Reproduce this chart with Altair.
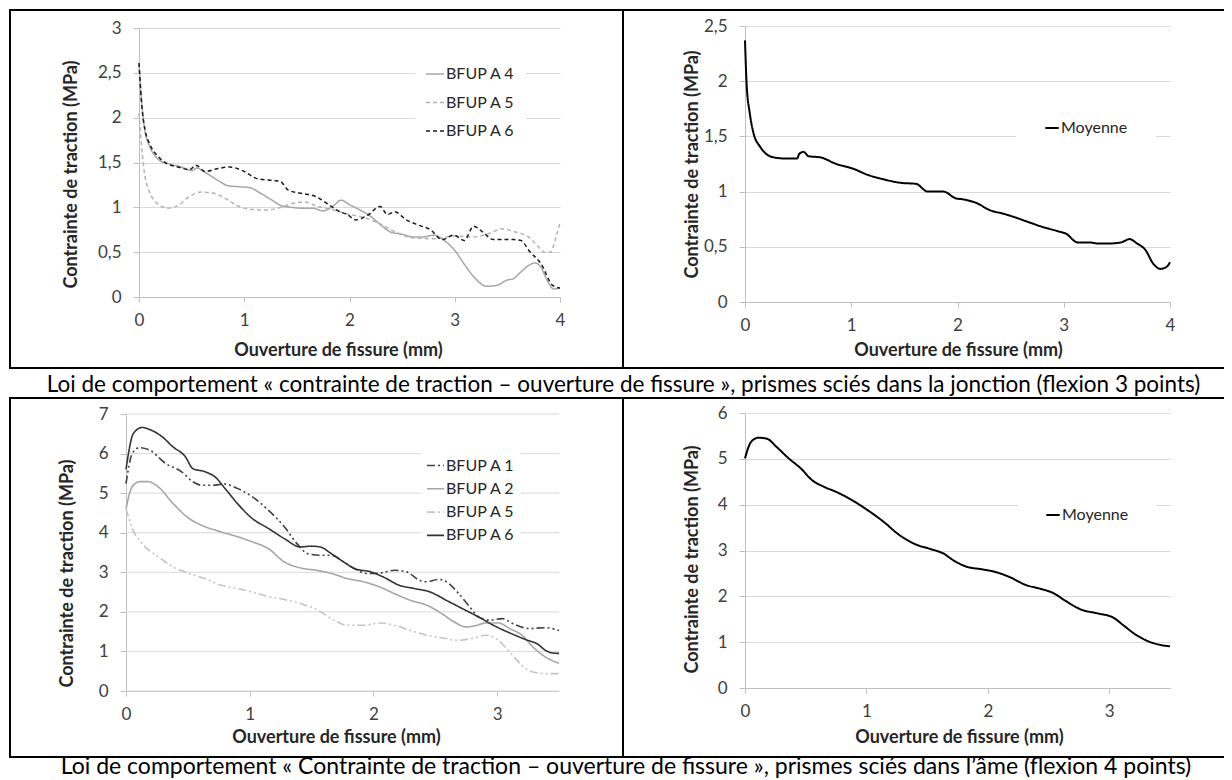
import altair as alt
import pandas as pd

FONT = "Lato"
LABEL_C = "#404040"
TITLE_C = "#262626"
GRID_C = "#d9d9d9"
AXIS_C = "#bfbfbf"
TICK_FS = 17
TITLE_FS = 18
LEG_FS = 16

# ---------------- data: top-left (jonction, flexion 3 points) ----------------
tl_a4_x = [0, 0.02, 0.05, 0.1, 0.15, 0.2, 0.3, 0.4, 0.5, 0.55, 0.6, 0.67, 0.75, 0.85, 0.95, 1.05, 1.15, 1.25,
           1.35, 1.45, 1.55, 1.65, 1.75, 1.85, 1.92, 2.0, 2.1, 2.2, 2.3, 2.4, 2.5, 2.6, 2.7, 2.8, 2.9, 3.0,
           3.1, 3.2, 3.3, 3.4, 3.5, 3.55, 3.62, 3.7, 3.76, 3.82, 3.88, 3.94, 4.0]
tl_a4_y = [2.6, 2.25, 1.9, 1.68, 1.58, 1.52, 1.48, 1.45, 1.41, 1.44, 1.41, 1.36, 1.3, 1.24, 1.23, 1.22, 1.16,
           1.09, 1.02, 1.0, 0.99, 0.99, 0.96, 1.02, 1.08, 1.03, 0.97, 0.9, 0.8, 0.72, 0.7, 0.67, 0.67, 0.69,
           0.63, 0.52, 0.35, 0.2, 0.12, 0.13, 0.19, 0.2, 0.27, 0.35, 0.38, 0.33, 0.18, 0.09, 0.1]
tl_a5_x = [0, 0.02, 0.05, 0.1, 0.15, 0.2, 0.27, 0.37, 0.48, 0.59, 0.7, 0.82, 0.93, 1.05, 1.2, 1.35, 1.45, 1.57,
           1.7, 1.85, 2.0, 2.13, 2.28, 2.43, 2.6, 2.8, 3.0, 3.18, 3.33, 3.45, 3.56, 3.7, 3.78, 3.85, 3.91, 3.96, 4.0]
tl_a5_y = [2.05, 1.75, 1.4, 1.17, 1.07, 1.02, 0.99, 1.02, 1.12, 1.17, 1.16, 1.1, 1.02, 0.98, 0.97, 1.0, 1.04,
           1.06, 1.01, 0.97, 0.92, 0.89, 0.82, 0.73, 0.66, 0.65, 0.68, 0.67, 0.71, 0.76, 0.73, 0.67, 0.58, 0.5,
           0.5, 0.66, 0.83]
tl_a6_x = [0, 0.03, 0.06, 0.1, 0.18, 0.26, 0.37, 0.48, 0.54, 0.63, 0.74, 0.86, 1.0, 1.12, 1.27, 1.34, 1.42, 1.57,
           1.68, 1.79, 1.91, 1.98, 2.06, 2.17, 2.29, 2.36, 2.43, 2.54, 2.66, 2.77, 2.88, 2.99, 3.09, 3.18, 3.26,
           3.37, 3.56, 3.63, 3.71, 3.82, 3.93, 4.0]
tl_a6_y = [2.61, 2.09, 1.85, 1.71, 1.57, 1.49, 1.45, 1.42, 1.47, 1.4, 1.43, 1.45, 1.4, 1.32, 1.3, 1.29, 1.19,
           1.15, 1.12, 1.04, 0.95, 0.92, 0.86, 0.91, 1.01, 0.92, 0.95, 0.86, 0.8, 0.75, 0.64, 0.69, 0.63, 0.79,
           0.73, 0.64, 0.64, 0.63, 0.51, 0.37, 0.13, 0.1]

# ---------------- data: top-right (moyenne) ----------------
tr_x = [0, 0.015, 0.045, 0.08, 0.14, 0.19, 0.27, 0.38, 0.49, 0.51, 0.55, 0.6, 0.71, 0.86, 1.01, 1.16, 1.31, 1.46,
        1.61, 1.72, 1.87, 1.98, 2.05, 2.17, 2.31, 2.43, 2.5, 2.65, 2.8, 2.95, 3.02, 3.13, 3.24, 3.32, 3.43, 3.54,
        3.62, 3.69, 3.77, 3.84, 3.91, 3.97, 4.0]
tr_y = [2.37, 1.98, 1.71, 1.53, 1.41, 1.35, 1.31, 1.3, 1.3, 1.34, 1.36, 1.32, 1.31, 1.25, 1.21, 1.15, 1.11, 1.08,
        1.07, 1.0, 1.0, 0.94, 0.93, 0.9, 0.83, 0.8, 0.78, 0.73, 0.68, 0.64, 0.62, 0.54, 0.54, 0.53, 0.53, 0.54,
        0.57, 0.53, 0.47, 0.35, 0.3, 0.32, 0.36]

# ---------------- data: bottom-left (ame, flexion 4 points) ----------------
bl_a1_x = [0, 0.05, 0.11, 0.19, 0.32, 0.45, 0.54, 0.61, 0.7, 0.8, 0.9, 1.02, 1.15, 1.28, 1.38, 1.47, 1.57, 1.66,
           1.76, 1.85, 1.95, 2.05, 2.17, 2.27, 2.37, 2.43, 2.53, 2.59, 2.69, 2.78, 2.85, 2.94, 3.04, 3.13, 3.26,
           3.39, 3.5]
bl_a1_y = [5.24, 6.0, 6.15, 6.09, 5.75, 5.54, 5.29, 5.2, 5.2, 5.23, 5.12, 4.91, 4.57, 4.15, 3.73, 3.47, 3.43,
           3.43, 3.26, 3.09, 2.97, 2.98, 3.05, 3.01, 2.8, 2.76, 2.82, 2.76, 2.46, 2.12, 1.87, 1.79, 1.83, 1.7,
           1.58, 1.6, 1.53]
bl_a2_x = [0, 0.05, 0.11, 0.18, 0.26, 0.38, 0.51, 0.61, 0.77, 0.9, 1.02, 1.15, 1.28, 1.41, 1.54, 1.66, 1.79,
           1.92, 2.05, 2.17, 2.3, 2.43, 2.56, 2.65, 2.75, 2.81, 2.91, 3.01, 3.1, 3.2, 3.29, 3.39, 3.5]
bl_a2_y = [4.61, 5.16, 5.29, 5.29, 5.16, 4.74, 4.36, 4.19, 4.02, 3.9, 3.77, 3.6, 3.26, 3.11, 3.05, 2.97, 2.84,
           2.76, 2.63, 2.46, 2.29, 2.17, 1.94, 1.75, 1.62, 1.64, 1.72, 1.72, 1.58, 1.41, 1.11, 0.86, 0.7]
bl_a5_x = [0, 0.05, 0.13, 0.26, 0.38, 0.51, 0.64, 0.77, 0.9, 1.02, 1.15, 1.28, 1.41, 1.54, 1.66, 1.79, 1.92,
           2.05, 2.17, 2.3, 2.43, 2.56, 2.69, 2.81, 2.91, 3.01, 3.1, 3.2, 3.29, 3.39, 3.5]
bl_a5_y = [4.61, 4.11, 3.73, 3.39, 3.14, 2.97, 2.84, 2.67, 2.59, 2.5, 2.39, 2.31, 2.21, 2.06, 1.83, 1.66, 1.66,
           1.72, 1.66, 1.53, 1.41, 1.34, 1.28, 1.34, 1.41, 1.28, 0.99, 0.65, 0.48, 0.44, 0.44]
bl_a6_x = [0, 0.06, 0.13, 0.19, 0.29, 0.38, 0.48, 0.54, 0.64, 0.72, 0.8, 0.9, 1.02, 1.15, 1.28, 1.41, 1.5, 1.57,
           1.66, 1.76, 1.85, 1.98, 2.08, 2.21, 2.33, 2.46, 2.59, 2.72, 2.85, 2.97, 3.1, 3.23, 3.33, 3.39, 3.45, 3.5]
bl_a6_y = [5.6, 6.51, 6.66, 6.61, 6.43, 6.17, 5.92, 5.62, 5.54, 5.41, 5.12, 4.74, 4.36, 4.11, 3.85, 3.64, 3.66,
           3.64, 3.47, 3.26, 3.09, 3.01, 2.88, 2.67, 2.59, 2.5, 2.29, 2.08, 1.87, 1.66, 1.47, 1.3, 1.18, 1.03,
           0.96, 0.95]

# ---------------- data: bottom-right (moyenne) ----------------
br_x = [0, 0.05, 0.11, 0.18, 0.26, 0.36, 0.46, 0.55, 0.65, 0.75, 0.88, 1.01, 1.14, 1.27, 1.4, 1.53, 1.63, 1.72,
        1.82, 1.95, 2.05, 2.18, 2.31, 2.44, 2.54, 2.64, 2.77, 2.9, 3.03, 3.12, 3.22, 3.32, 3.42, 3.5]
br_y = [5.01, 5.37, 5.46, 5.44, 5.26, 5.01, 4.79, 4.54, 4.39, 4.28, 4.1, 3.88, 3.63, 3.34, 3.14, 3.03, 2.94,
        2.78, 2.65, 2.59, 2.54, 2.42, 2.25, 2.16, 2.07, 1.9, 1.71, 1.63, 1.54, 1.36, 1.16, 1.02, 0.94, 0.91]

tick_x4 = [0, 1, 2, 3, 4]
tick_x35 = [0, 1, 2, 3]
tick_y3 = [0, 0.5, 1, 1.5, 2, 2.5, 3]
tick_y25 = [0, 0.5, 1, 1.5, 2, 2.5]
tick_y7 = [0, 1, 2, 3, 4, 5, 6, 7]
tick_y6 = [0, 1, 2, 3, 4, 5, 6]

X_TITLE = "Ouverture de fissure (mm)"
Y_TITLE = "Contrainte de traction (MPa)"
CAP1 = "Loi de comportement « contrainte de traction – ouverture de fissure », prismes sciés dans la jonction (flexion 3 points)"
CAP2 = "Loi de comportement « Contrainte de traction – ouverture de fissure », prismes sciés dans l’âme (flexion 4 points)"

ONE = pd.DataFrame({"k": [0]})
SOLID = [1, 0]
DASH = [4, 3]
DDOT = [8, 3, 2, 3, 2, 3]
COMMA = "replace(format(datum.value, '~g'), '.', ',')"


def bar(x1, x2, y1, y2, color="black"):
    return alt.Chart(ONE).mark_rect(color=color).encode(
        x=alt.value(x1), x2=alt.value(x2), y=alt.value(y1), y2=alt.value(y2))


def panel(series, colors, dashes, sw, xmax, xticks, xrange, ymax, yticks, yrange, W, H, leg, xt, yt,
          yoff, deco, own_grid=False):
    names = [s[0] for s in series]
    rows = []
    for name, xs, ys in series:
        for x, y in zip(xs, ys):
            rows.append({"serie": name, "x": x, "y": y})
    df = pd.DataFrame(rows)
    lg = alt.Legend(title=None, orient="none", legendX=leg["x"], legendY=leg["y"], padding=leg["pad"],
                    rowPadding=leg["row"], symbolType="stroke", symbolSize=leg["size"], symbolStrokeWidth=sw,
                    labelOffset=1, labelFont=FONT, labelFontSize=LEG_FS, labelColor=TITLE_C, fillColor="white")
    xsc = alt.Scale(domain=[0, xmax], nice=False, zero=False, range=xrange)
    ysc = alt.Scale(domain=[0, ymax], nice=False, zero=False, range=yrange)
    xax = alt.Axis(values=xticks, grid=False, domainColor=AXIS_C, tickColor=AXIS_C, tickSize=5,
                   labelPadding=10, labelFont=FONT, labelFontSize=TICK_FS, labelColor=LABEL_C,
                   labelFlush=False, labelExpr=COMMA, title=X_TITLE, titleFont=FONT, titleFontSize=TITLE_FS,
                   titleFontWeight="bold", titleColor=TITLE_C, titleX=xt[0], titleY=xt[1],
                   titleBaseline="middle", titleAlign="center")
    yax = alt.Axis(values=yticks, grid=not own_grid, gridColor=GRID_C, gridWidth=1, domainColor=AXIS_C,
                   tickColor=AXIS_C, tickSize=6, labelPadding=12, labelFont=FONT, labelFontSize=TICK_FS,
                   labelColor=LABEL_C, labelExpr=COMMA,
                   title=Y_TITLE, titleFont=FONT, titleFontSize=TITLE_FS, titleFontWeight="bold",
                   titleColor=TITLE_C, titleX=yt[0], titleY=yt[1], titleAngle=270,
                   titleBaseline="middle", titleAlign="center", offset=yoff)
    lines = alt.Chart(df).mark_line(interpolate="monotone", strokeWidth=sw).encode(
        x=alt.X("x:Q", scale=xsc, axis=xax),
        y=alt.Y("y:Q", scale=ysc, axis=yax),
        color=alt.Color("serie:N", scale=alt.Scale(domain=names, range=colors), legend=lg),
        strokeDash=alt.StrokeDash("serie:N", scale=alt.Scale(domain=names, range=dashes), legend=lg),
    )
    layers = []
    if own_grid:
        gdf = pd.DataFrame({"y": yticks})
        layers.append(alt.Chart(gdf).mark_rule(color=GRID_C, strokeWidth=1).encode(
            y=alt.Y("y:Q", scale=ysc, axis=yax), x=alt.datum(0, scale=xsc, axis=xax),
            x2=alt.datum(xmax)))
    layers.append(lines)
    layers.extend(deco)
    return alt.layer(*layers).properties(width=W, height=H)


# top-left: origin (139, 28)
tl = panel([("BFUP A 4", tl_a4_x, tl_a4_y), ("BFUP A 5", tl_a5_x, tl_a5_y), ("BFUP A 6", tl_a6_x, tl_a6_y)],
           ["#a6a6a6", "#b3b3b3", "#1a1a1a"], [SOLID, DASH, DASH], 1.5,
           4, tick_x4, [0, 421], 3, tick_y3, [269, 0], 421, 269,
           {"x": 276, "y": 26, "pad": 10, "row": 10.5, "size": 324},
           (199, 53), (-68, 146), 0,
           [bar(-130, -128, -19, 339), bar(-130, 485, -19, -17), bar(483, 485, -19, 339)])

# top-right: origin (745, 28)
tr = panel([("Moyenne", tr_x, tr_y)], ["#000000"], [SOLID], 2,
           4, tick_x4, [0, 425], 2.5, tick_y25, [274, -2], 425, 274,
           {"x": 271, "y": 64, "pad": 28, "row": 0, "size": 180},
           (213, 48), (-53, 136), 0,
           [bar(-121, 479, -19, -17)])

# bottom-left: origin (139, 414), plot starts at 126
bl = panel([("BFUP A 1", bl_a1_x, bl_a1_y), ("BFUP A 2", bl_a2_x, bl_a2_y), ("BFUP A 5", bl_a5_x, bl_a5_y),
            ("BFUP A 6", bl_a6_x, bl_a6_y)],
           ["#404040", "#a6a6a6", "#c4c4c4", "#333333"], [DDOT, SOLID, DDOT, SOLID], 1.6,
           3.5, tick_x35, [-13, 420], 7, tick_y7, [277, 0], 420, 277,
           {"x": 282, "y": 37, "pad": 5, "row": 5.3, "size": 289},
           (197, 46), (-59, 159), 13,
           [bar(-130, -128, -15, 342), bar(483, 485, -15, 342)], own_grid=True)

# bottom-right: origin (745, 414)
br = panel([("Moyenne", br_x, br_y)], ["#000000"], [SOLID], 2,
           3.5, tick_x35, [0, 425], 6, tick_y6, [274, -1], 425, 274,
           {"x": 273, "y": 66, "pad": 27, "row": 0, "size": 180},
           (214, 49), (-53, 145), 0,
           [bar(-121, -120, -15, -14, color="white")])


def caption(text, lines, tx, ty, fs):
    layers = [bar(-130, 1085, y, y + 2) for y in lines]
    layers.append(alt.Chart(ONE).mark_text(text=text, font=FONT, fontSize=fs, color="black", align="center",
                                           baseline="middle").encode(x=alt.value(tx), y=alt.value(ty)))
    return alt.layer(*layers).properties(width=1, height=1)


cap1 = caption(CAP1, [0, 30], 484.5, 18, 22.5)
cap2 = caption(CAP2, [0], 487, 11, 23)

row1 = alt.hconcat(tl, tr, spacing=0).resolve_scale(color="independent", strokeDash="independent")
row2 = alt.hconcat(bl, br, spacing=0).resolve_scale(color="independent", strokeDash="independent")

chart = alt.vconcat(row1, cap1, row2, cap2, spacing=0).resolve_scale(
    color="independent", strokeDash="independent"
).properties(
    padding={"left": 1, "top": 1, "right": 0, "bottom": 0}, background="white"
).configure_view(strokeWidth=0)

chart.save("out.html", embed_options={"renderer": "svg", "actions": False})
